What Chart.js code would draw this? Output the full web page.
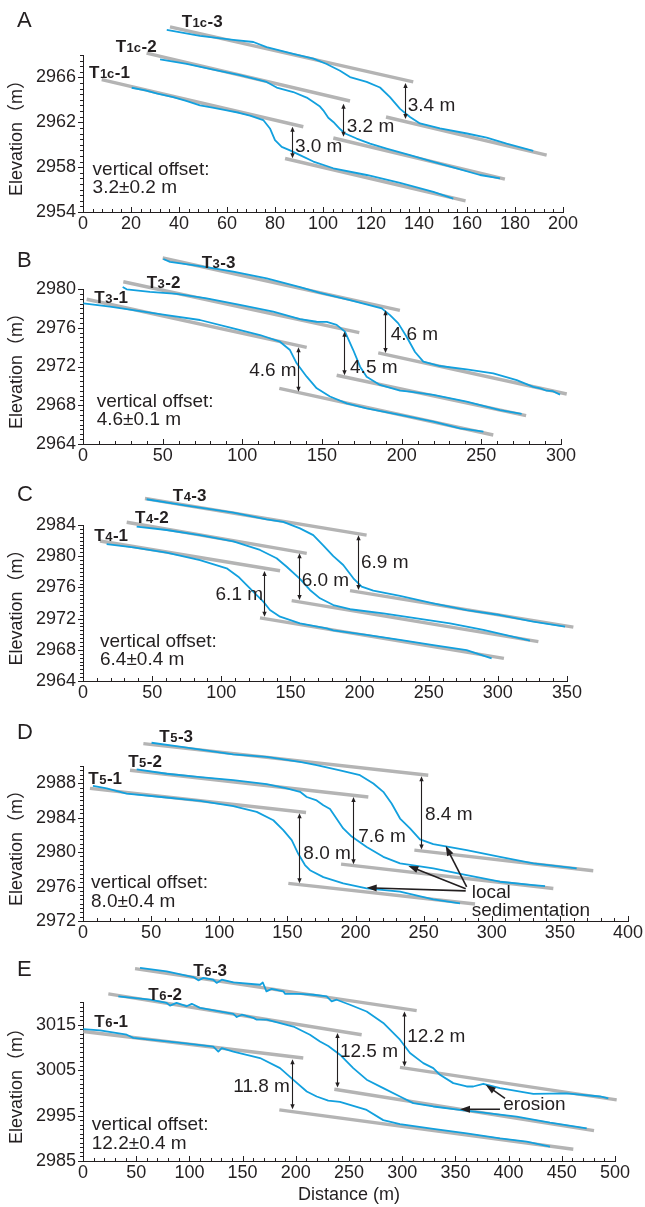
<!DOCTYPE html>
<html><head><meta charset="utf-8">
<script src="https://cdn.jsdelivr.net/npm/chart.js@4/dist/chart.umd.min.js"></script>
<style>
html,body{margin:0;padding:0;background:#fff;}
body{width:645px;height:1207px;position:relative;overflow:hidden;}
canvas{position:absolute;left:0;}
</style></head><body>
<canvas id="cA" width="645" height="240" style="top:0px"></canvas>
<canvas id="cB" width="645" height="230" style="top:240px"></canvas>
<canvas id="cC" width="645" height="230" style="top:470px"></canvas>
<canvas id="cD" width="645" height="240" style="top:700px"></canvas>
<canvas id="cE" width="645" height="267" style="top:940px"></canvas>
<script>
// ---------------- DATA ----------------
// Panel A: T1c terraces
const A_xTicks = [0,20,40,60,80,100,120,140,160,180,200];
const A_yTicks = [2954,2958,2962,2966];
const A_T1 = [[20.3,2965.08],[26,2964.85],[31,2964.55],[37.6,2964.25],[43,2963.9],[48.75,2963.5],[54,2963.3],[59.9,2963.07],[65,2962.85],[69.6,2962.6],[75.1,2962.2],[77.9,2961.45],[80,2960.4],[82.8,2959.8],[86.25,2959.5],[90.4,2959.07],[96,2958.5],[104.3,2957.9],[118.2,2957.3],[132.1,2956.6],[146,2955.8],[154.3,2955.2]];
const A_T2 = [[32.1,2967.6],[43.2,2967.2],[54.3,2966.7],[65.4,2966.2],[76.5,2965.6],[80.7,2965.1],[87.6,2964.7],[93.2,2964.2],[96,2963.8],[98.75,2963.4],[100.1,2963.07],[102.2,2962.4],[104.3,2962.03],[107.1,2961.4],[109.2,2961.0],[114,2960.55],[119.6,2960.1],[126.5,2959.66],[136.25,2959.07],[146,2958.47],[155.7,2957.88],[165.4,2957.3],[173.75,2957.0]];
const A_T3 = [[34.9,2970.24],[48.75,2969.7],[62.6,2969.35],[71,2969.16],[76.5,2968.7],[87.6,2968.1],[96,2967.67],[101.5,2967.2],[107.1,2966.6],[111.25,2966.03],[118.2,2965.6],[123.75,2965.1],[127.9,2964.25],[132.1,2963.2],[136.25,2962.47],[140.4,2961.9],[148.75,2961.45],[160,2961.0],[168.2,2960.64],[176.5,2960.1],[187.6,2959.45]];
const A_fits = [[[7.8,2965.8],[91.8,2961.6]],[[84.2,2958.77],[159.4,2955.0]],[[26.5,2968.16],[111.25,2963.9]],[[104.3,2960.6],[175.8,2956.93]],[[36.25,2970.5],[137.6,2965.6]],[[126.25,2962.47],[193.2,2959.07]]];
const A_offsetX = [86.9,108.2,134.3];
const A_offsetTop = [2961.6,2963.66,2965.5];
const A_offsetBot = [2958.8,2960.7,2962.3];
const A_offsetLbl = ['3.0 m','3.2 m','3.4 m'];
const A_names = [['1c','-1'],['1c','-2'],['1c','-3']];
const A_summary = ['vertical offset:','3.2±0.2 m'];

// Panel B: T3 terraces
const B_xTicks = [0,50,100,150,200,250,300];
const B_yTicks = [2964,2968,2972,2976,2980];
const B_T1 = [[0.2,2978.52],[16.9,2978.17],[31.6,2977.83],[52.5,2977.3],[73.4,2976.8],[94.3,2975.94],[111.1,2975.25],[123.6,2974.56],[129.9,2973.7],[134.1,2972.33],[140.4,2970.95],[146.7,2969.75],[155,2968.9],[165.5,2968.2],[178,2967.68],[199,2967.0],[219.9,2966.3],[236.6,2965.62],[251.3,2965.27]];
const B_T2 = [[24.9,2980.2],[27.4,2979.97],[42,2979.7],[58.8,2979.5],[77.6,2979.04],[98.5,2978.35],[119.4,2977.66],[136.2,2976.9],[146.6,2976.62],[153,2976.6],[159.2,2976.3],[164.4,2975.6],[169.6,2973.7],[173.9,2971.98],[178,2970.95],[186.4,2970.1],[199,2969.5],[205.2,2969.4],[219.9,2969.06],[240.8,2968.37],[261.7,2967.5],[275.3,2967.1]];
const B_T3 = [[50.4,2983.1],[54.6,2982.8],[73.4,2982.37],[94.3,2981.8],[115.3,2981.1],[136.2,2980.2],[148.7,2979.6],[167.6,2978.86],[187.5,2978.0],[192.7,2977.3],[197.9,2976.45],[203.1,2975.07],[208.4,2973.5],[213.6,2972.5],[224,2972.05],[240.8,2971.7],[257.5,2971.3],[272.2,2970.6],[282.6,2969.9],[287,2969.75],[291,2969.5],[295,2969.45],[299.4,2969.1]];
const B_fits = [[[2.3,2978.94],[140.4,2973.98]],[[123.2,2969.75],[257.5,2964.93]],[[25.3,2980.75],[173.4,2975.5]],[[159.2,2971.1],[278.1,2966.92]],[[50,2983.2],[198.9,2977.8]],[[185.3,2973.4],[303.6,2969.16]]];
const B_offsetX = [135.1,164,189.8];
const B_offsetTop = [2973.98,2975.6,2977.8];
const B_offsetBot = [2969.4,2971.1,2973.4];
const B_offsetLbl = ['4.6 m','4.5 m','4.6 m'];
const B_names = [['3','-1'],['3','-2'],['3','-3']];
const B_summary = ['vertical offset:','4.6±0.1 m'];

// Panel C: T4 terraces
const C_xTicks = [0,50,100,150,200,250,300,350];
const C_yTicks = [2964,2968,2972,2976,2980,2984];
const C_T1 = [[17.1,2981.56],[36.4,2981.14],[60.5,2980.45],[84.6,2979.5],[103.9,2978.45],[112.3,2977.37],[118.4,2976.3],[125.6,2975.0],[130.4,2974.17],[135.2,2973.1],[142.5,2972.24],[156.9,2971.4],[176.2,2970.76],[181,2970.5],[205.1,2969.9],[229.2,2969.26],[253.3,2968.6],[277.4,2967.97],[295.5,2966.9]];
const C_T2 = [[38.8,2983.8],[60.5,2983.36],[84.6,2982.7],[108.7,2981.9],[128,2980.8],[140,2979.73],[147.3,2978.65],[156.9,2977.1],[164.1,2975.67],[171.4,2974.6],[181,2973.74],[193.1,2973.2],[217.2,2972.68],[241.3,2972.04],[265.4,2971.4],[289.5,2970.54],[323.2,2969.17]];
const C_T3 = [[46,2987.3],[72.5,2986.56],[108.7,2985.58],[132.8,2984.73],[144.8,2984.4],[156.9,2983.57],[166.5,2982.7],[173.7,2981.4],[181,2980.0],[188.2,2978.87],[195.5,2977.17],[201.5,2976.1],[209.9,2975.58],[229.2,2974.9],[253.3,2973.96],[277.4,2973.1],[301.5,2972.46],[325.6,2971.6],[348.6,2970.96]];
const C_fits = [[[12.3,2981.95],[142.5,2978.14]],[[128,2972.1],[304.4,2966.9]],[[31.6,2984.35],[161.8,2980.37]],[[150.9,2974.3],[329.3,2969.04]],[[44.8,2987.4],[205.1,2982.7]],[[193.1,2975.58],[354.6,2970.9]]];
const C_offsetX = [131.1,156.4,199.1];
const C_offsetTop = [2978.1,2980.37,2982.7];
const C_offsetBot = [2972.24,2974.4,2975.67];
const C_offsetLbl = ['6.1 m','6.0 m','6.9 m'];
const C_names = [['4','-1'],['4','-2'],['4','-3']];
const C_summary = ['vertical offset:','6.4±0.4 m'];

// Panel D: T5 terraces
const D_xTicks = [0,50,100,150,200,250,300,350,400];
const D_yTicks = [2972,2976,2980,2984,2988];
const D_T1 = [[7.3,2987.7],[17.4,2987.4],[32,2986.8],[61.4,2986.34],[85.9,2985.95],[110.3,2985.33],[127.5,2984.67],[139.7,2983.7],[147,2982.55],[153.2,2981.4],[158,2979.8],[162.9,2978.5],[166.6,2977.9],[176.4,2977.1],[191,2976.36],[208.2,2975.8],[232.7,2975.4],[257.1,2974.5],[276.7,2974.05]];
const D_T2 = [[39.4,2989.6],[61.4,2989.1],[85.9,2988.7],[110.3,2988.35],[134.8,2987.9],[149.5,2987.4],[159.3,2987.0],[164.2,2986.4],[171.5,2986.0],[176.4,2985.45],[181.3,2985.0],[191,2982.75],[197.2,2981.8],[208.2,2980.6],[220.4,2979.45],[232.7,2978.7],[257.1,2978.1],[281.6,2977.33],[306,2976.56],[330.5,2976.17],[339.1,2976.06]];
const D_T3 = [[50.3,2992.7],[73.6,2992.2],[110.3,2991.36],[134.8,2991.05],[159.3,2990.47],[171.5,2990.1],[188.6,2989.5],[203.3,2988.93],[213.1,2987.97],[220.4,2987.0],[226.5,2985.64],[232.7,2983.9],[240,2982.75],[247.3,2981.47],[257.1,2980.93],[281.6,2980.23],[306,2979.45],[330.5,2978.7],[362.3,2978.1]];
const D_fits = [[[5.1,2987.4],[163.7,2984.6]],[[150.7,2976.37],[287.7,2973.97]],[[34.5,2989.5],[209.4,2986.4]],[[189.4,2978.6],[345.2,2975.78]],[[44.3,2992.6],[253.4,2988.93]],[[243.2,2980.23],[374.5,2977.83]]];
const D_offsetX = [158.5,198,248.3];
const D_offsetTop = [2984.5,2986.4,2988.8];
const D_offsetBot = [2976.37,2978.6,2980.3];
const D_offsetLbl = ['8.0 m','7.6 m','8.4 m'];
const D_names = [['5','-1'],['5','-2'],['5','-3']];
const D_summary = ['vertical offset:','8.0±0.4 m'];
const D_noteText = ['local','sedimentation'];
const D_noteFrom = [[280.9,2975.5],[280.9,2975.75],[281.6,2975.95]];
const D_noteTo = [[208.2,2975.86],[238.8,2978.4],[266.2,2980.73]];

// Panel E: T6 terraces
const E_xTicks = [0,50,100,150,200,250,300,350,400,450,500];
const E_yTicks = [2985,2995,3005,3015];
const E_T1 = [[0.3,3014.05],[16,3013.74],[41.1,3012.8],[47.3,3012.1],[63,3011.7],[94.3,3010.96],[122.5,3010.2],[127.2,3009.1],[130.4,3009.86],[141.3,3009.1],[166.4,3007.66],[185.2,3005.45],[197.7,3002.87],[210.3,3000.3],[219.6,2999.2],[230.5,2998.3],[241.5,2998.0],[266.6,2996.25],[282.2,2994.0],[297.9,2993.1],[329.2,2992.06],[360.6,2991.1],[391.9,2990.0],[417,2989.26],[438.9,2988.15]];
const E_T2 = [[33.2,3021.25],[63,3020.5],[78.6,3019.8],[81.8,3019.2],[87.9,3019.8],[97.3,3019.07],[102.2,3019.6],[110,3018.7],[141.3,3017.4],[144.5,3016.7],[149.2,3017.2],[160.2,3016.5],[163.3,3016.1],[172.7,3016.1],[197.7,3014.6],[213.3,3012.8],[222.7,3011.3],[230.5,3010.3],[241.5,3008.4],[254,3005.45],[266.6,3002.9],[282.2,3001.04],[297.9,2999.2],[310.4,2997.74],[329.2,2997.0],[354.3,2996.25],[376.2,2995.66],[407.6,2994.77],[438.9,2993.45],[473.4,2992.2]];
const E_T3 = [[53.6,3027.5],[78.6,3026.76],[103.7,3025.5],[108.4,3024.77],[113.1,3025.3],[122.5,3024.9],[125.6,3024.2],[130.4,3024.9],[141.3,3024.3],[166.4,3023.8],[169,3024.3],[172.4,3022.35],[177.3,3022.9],[188.3,3022.35],[189.8,3021.8],[203.9,3021.8],[216.4,3021.6],[229,3021.25],[233.7,3020.14],[238.4,3020.5],[250.9,3019.4],[266.6,3017.9],[282.2,3015.4],[297.9,3011.7],[307.3,3008.76],[319.8,3006.55],[329.2,3005.45],[335.5,3003.97],[348,3002.14],[360.6,3001.4],[366.8,3001.4],[376.2,3002.0],[391.9,3001.04],[423.2,2999.78],[454.6,2999.9],[485.9,2999.2],[493.7,2998.8]];
const E_fits = [[[0.3,3013.5],[207,3007.66]],[[184.5,2996.25],[460.8,2987.58]],[[23.8,3021.8],[261.9,3012.8]],[[236.2,3000.8],[480.3,2991.7]],[[48.9,3027.36],[313.6,3018.1]],[[297.9,3005.6],[501.6,2998.46]]];
const E_offsetX = [196.1,238.4,301.7];
const E_offsetTop = [3007.4,3013.2,3017.9];
const E_offsetBot = [2996.4,3001.2,3005.8];
const E_offsetLbl = ['11.8 m','12.5 m','12.2 m'];
const E_names = [['6','-1'],['6','-2'],['6','-3']];
const E_summary = ['vertical offset:','12.2±0.4 m'];
const E_noteText = ['erosion'];
const E_noteFrom = [[396.6,2998.8],[391.9,2996.4]];
const E_noteTo = [[378.5,3001.77],[354.3,2996.4]];

// ---------------- STYLE / LAYOUT ----------------
const FONT = '"Liberation Sans", Arial, Helvetica, sans-serif';
const INK = '#231f20';
const BLUE = '#12a0de';
const GREY = '#b4b4b4';

const panels = [
  {id:'cA', letter:'A', letterY:21, area:{left:83,right:563,top:55,bottom:212}, xMin:0,xMax:200,yMin:2954,yMax:2968, xMinor:4, yMinor:0.5,
   xTicks:A_xTicks, yTicks:A_yTicks, profiles:[A_T1,A_T2,A_T3], fits:A_fits, offX:A_offsetX, offTop:A_offsetTop, offBot:A_offsetBot, offLbl:A_offsetLbl,
   offLblPos:[[88.3,2959.8,'left'],[109.9,2961.64,'left'],[135.3,2963.5,'left']],
   names:A_names, nameBase:'T', namePos:[[2.5,2966.44],[13.6,2968.84],[41.1,2971.07]],
   summary:A_summary, summaryPos:[4,2957.73,2956.13]},
  {id:'cB', letter:'B', letterY:20.5, area:{left:83,right:561,top:49,bottom:204}, xMin:0,xMax:300,yMin:2964,yMax:2980, xMinor:10, yMinor:0.5,
   xTicks:B_xTicks, yTicks:B_yTicks, profiles:[B_T1,B_T2,B_T3], fits:B_fits, offX:B_offsetX, offTop:B_offsetTop, offBot:B_offsetBot, offLbl:B_offsetLbl,
   offLblPos:[[134.1,2971.54,'right'],[167.6,2971.88,'left'],[193.1,2975.25,'left']],
   names:B_names, nameBase:'T', namePos:[[7.1,2979.2],[40,2980.75],[74.5,2982.82]],
   summary:B_summary, summaryPos:[8.6,2968.37,2966.48]},
  {id:'cC', letter:'C', letterY:24.5, area:{left:83,right:567,top:55,bottom:211}, xMin:0,xMax:350,yMin:2964,yMax:2984, xMinor:10, yMinor:0.5,
   xTicks:C_xTicks, yTicks:C_yTicks, profiles:[C_T1,C_T2,C_T3], fits:C_fits, offX:C_offsetX, offTop:C_offsetTop, offBot:C_offsetBot, offLbl:C_offsetLbl,
   offLblPos:[[130.2,2975.03,'right'],[158.1,2976.8,'left'],[201,2979.17,'left']],
   names:C_names, nameBase:'T', namePos:[[8.2,2982.72],[37.6,2985.06],[64.9,2987.85]],
   summary:C_summary, summaryPos:[12.3,2969.04,2966.7]},
  {id:'cD', letter:'D', letterY:32.5, area:{left:83,right:628,top:66,bottom:221}, xMin:0,xMax:400,yMin:2972,yMax:2990, xMinor:10, yMinor:0.5,
   xTicks:D_xTicks, yTicks:D_yTicks, profiles:[D_T1,D_T2,D_T3], fits:D_fits, offX:D_offsetX, offTop:D_offsetTop, offBot:D_offsetBot, offLbl:D_offsetLbl,
   offLblPos:[[161.7,2979.85,'left'],[202,2981.77,'left'],[251,2984.37,'left']],
   names:D_names, nameBase:'T', namePos:[[3.9,2988.55],[33.2,2990.55],[56,2993.45]],
   summary:D_summary, summaryPos:[5.9,2976.44,2974.24],
   note:D_noteText, notePos:[285.3,2975.28,2973.19], noteFrom:D_noteFrom, noteTo:D_noteTo},
  {id:'cE', letter:'E', letterY:29.5, area:{left:83,right:615,top:62,bottom:221}, xMin:0,xMax:500,yMin:2985,yMax:3020, xMinor:10, yMinor:1,
   xTicks:E_xTicks, yTicks:E_yTicks, profiles:[E_T1,E_T2,E_T3], fits:E_fits, offX:E_offsetX, offTop:E_offsetTop, offBot:E_offsetBot, offLbl:E_offsetLbl,
   offLblPos:[[194.5,3001.4,'right'],[241.5,3009,'left'],[304.8,3012.4,'left']],
   names:E_names, nameBase:'T', namePos:[[10.6,3015.9],[61.4,3021.84],[103.7,3027.1]],
   summary:E_summary, summaryPos:[8.2,2992.94,2988.9],
   note:E_noteText, notePos:[395,2997.35], noteFrom:E_noteFrom, noteTo:E_noteTo, xTitle:'Distance (m)'}
];

function arrowHead(ctx, x1, y1, x2, y2, len, half) {
  const a = Math.atan2(y2 - y1, x2 - x1);
  ctx.beginPath();
  ctx.moveTo(x2, y2);
  ctx.lineTo(x2 - len*Math.cos(a) + half*Math.sin(a), y2 - len*Math.sin(a) - half*Math.cos(a));
  ctx.lineTo(x2 - len*Math.cos(a) - half*Math.sin(a), y2 - len*Math.sin(a) + half*Math.cos(a));
  ctx.closePath();
  ctx.fill();
}

const decor = {
  id: 'decor',
  afterDraw(chart, args, opts) {
    const p = opts.panel; if (!p) return;
    const ctx = chart.ctx, xs = chart.scales.x, ys = chart.scales.y;
    const X = v => xs.getPixelForValue(v), Y = v => ys.getPixelForValue(v);
    ctx.save();
    ctx.strokeStyle = INK; ctx.fillStyle = INK; ctx.lineWidth = 1;
    // x ticks (pointing up into plot)
    const ax = xs.top;
    const nX = Math.round((p.xMax - p.xMin) / p.xMinor);
    ctx.beginPath();
    for (let i = 0; i <= nX; i++) {
      const v = p.xMin + i * p.xMinor;
      const major = p.xTicks.some(t => Math.abs(t - v) < 1e-6);
      const px = Math.round(X(v)) + 0.5;
      ctx.moveTo(px, ax); ctx.lineTo(px, ax - (major ? 5 : 3));
    }
    // y ticks (pointing left)
    const ay = ys.right;
    const nY = Math.round((p.yMax - p.yMin) / p.yMinor);
    for (let i = 0; i <= nY; i++) {
      const v = p.yMin + i * p.yMinor;
      const major = p.yTicks.some(t => Math.abs(t - v) < 1e-6);
      const py = Math.round(Y(v)) + 0.5;
      ctx.moveTo(ay, py); ctx.lineTo(ay - (major ? 5 : 3), py);
    }
    ctx.stroke();

    // offset arrows
    ctx.lineWidth = 1.1;
    p.offX.forEach((xv, i) => {
      const x = Math.round(X(xv)) + 0.5, y1 = Y(p.offTop[i]), y2 = Y(p.offBot[i]);
      ctx.beginPath(); ctx.moveTo(x, y1 + 3); ctx.lineTo(x, y2 - 3); ctx.stroke();
      arrowHead(ctx, x, y2, x, y1, 5, 2.2);
      arrowHead(ctx, x, y1, x, y2, 5, 2.2);
      const lp = p.offLblPos[i];
      ctx.font = '19px ' + FONT; ctx.textBaseline = 'middle'; ctx.textAlign = lp[2];
      ctx.fillText(p.offLbl[i], X(lp[0]), Y(lp[1]));
    });

    // terrace names: T + subscript + suffix
    p.names.forEach((nm, i) => {
      let x = X(p.namePos[i][0]); const base = Y(p.namePos[i][1]) + 6;
      ctx.textAlign = 'left'; ctx.textBaseline = 'alphabetic';
      ctx.font = 'bold 17px ' + FONT; ctx.fillText(p.nameBase, x, base); x += ctx.measureText(p.nameBase).width + 0.5;
      ctx.font = 'bold 13px ' + FONT; ctx.fillText(nm[0], x, base); x += ctx.measureText(nm[0]).width + 0.5;
      ctx.font = 'bold 17px ' + FONT; ctx.fillText(nm[1], x, base);
    });

    // summary text
    ctx.font = '19px ' + FONT; ctx.textAlign = 'left'; ctx.textBaseline = 'middle';
    ctx.fillText(p.summary[0], X(p.summaryPos[0]), Y(p.summaryPos[1]));
    ctx.fillText(p.summary[1], X(p.summaryPos[0]), Y(p.summaryPos[2]));

    // notes with pointer arrows
    if (p.note) {
      ctx.lineWidth = 1.6;
      p.noteFrom.forEach((f, i) => {
        const t = p.noteTo[i];
        const x1 = X(f[0]), y1 = Y(f[1]), x2 = X(t[0]), y2 = Y(t[1]);
        const a = Math.atan2(y2 - y1, x2 - x1);
        ctx.beginPath(); ctx.moveTo(x1, y1); ctx.lineTo(x2 - 7*Math.cos(a), y2 - 7*Math.sin(a)); ctx.stroke();
        arrowHead(ctx, x1, y1, x2, y2, 10, 3.5);
      });
      ctx.font = '19px ' + FONT; ctx.textAlign = 'left'; ctx.textBaseline = 'middle';
      p.note.forEach((s, i) => ctx.fillText(s, X(p.notePos[0]), Y(p.notePos[1 + i])));
    }

    // panel letter
    ctx.font = '22px ' + FONT; ctx.textAlign = 'left'; ctx.textBaseline = 'middle';
    ctx.fillText(p.letter, 17, p.letterY);
    ctx.restore();
  }
};

panels.forEach(p => {
  const canvas = document.getElementById(p.id);
  const H = canvas.height;
  const datasets = [];
  p.profiles.forEach(prof => datasets.push({
    data: prof.map(([x, y]) => ({x, y})), showLine: true, borderColor: BLUE, borderWidth: 1.8,
    pointRadius: 0, tension: 0, clip: false, order: 1, borderJoinStyle: 'round'
  }));
  p.fits.forEach(f => datasets.push({
    data: f.map(([x, y]) => ({x, y})), showLine: true, borderColor: GREY, borderWidth: 3.4,
    pointRadius: 0, clip: false, order: 2, borderCapStyle: 'butt'
  }));
  new Chart(canvas, {
    type: 'scatter',
    data: {datasets},
    plugins: [decor],
    options: {
      responsive: false, animation: false, devicePixelRatio: 1,
      events: [],
      layout: {padding: {top: p.area.top, right: 645 - p.area.right, left: 0, bottom: 0}},
      plugins: {legend: {display: false}, tooltip: {enabled: false}, decor: {panel: p}},
      scales: {
        x: {
          type: 'linear', position: 'bottom', min: p.xMin, max: p.xMax,
          afterFit: s => { s.height = H - p.area.bottom; },
          afterBuildTicks: s => { s.ticks = p.xTicks.map(v => ({value: v})); },
          grid: {display: false, drawTicks: false},
          border: {display: true, color: INK, width: 1},
          ticks: {font: {family: FONT, size: 18}, color: INK, padding: 1, maxRotation: 0, autoSkip: false, callback: v => String(v)},
          title: p.xTitle ? {display: true, text: p.xTitle, color: INK, font: {family: FONT, size: 18}, padding: {top: 0, bottom: 1}} : {display: false}
        },
        y: {
          type: 'linear', position: 'left', min: p.yMin, max: p.yMax,
          afterFit: s => { s.width = p.area.left; },
          afterBuildTicks: s => { s.ticks = p.yTicks.map(v => ({value: v})); },
          grid: {display: false, drawTicks: false},
          border: {display: true, color: INK, width: 1},
          ticks: {font: {family: FONT, size: 18}, color: INK, padding: 7, autoSkip: false, callback: v => String(v)},
          title: {display: true, text: 'Elevation（m）', color: INK, font: {family: FONT + ', "Noto Sans CJK SC"', size: 18}, padding: {top: 6, bottom: 0}}
        }
      }
    }
  });
});
</script>
</body></html>
